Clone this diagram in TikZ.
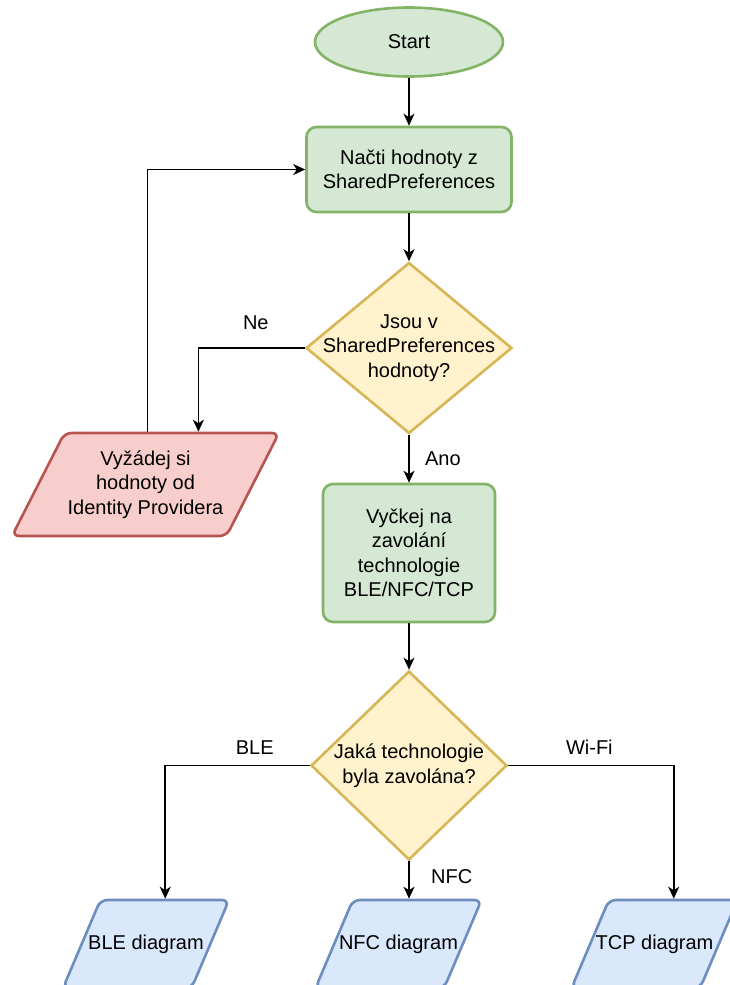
\documentclass[tikz,border=0pt]{standalone}
\usepackage{fontspec}
\setmainfont{Liberation Sans}
\usetikzlibrary{shapes.geometric,arrows.meta}

\definecolor{greenfill}{HTML}{D5E8D4}
\definecolor{greenline}{HTML}{82B366}
\definecolor{yellowfill}{HTML}{FFF2CC}
\definecolor{yellowline}{HTML}{D6B656}
\definecolor{redfill}{HTML}{F8CECC}
\definecolor{redline}{HTML}{B85450}
\definecolor{bluefill}{HTML}{DAE8FC}
\definecolor{blueline}{HTML}{6C8EBF}

\begin{document}
\begin{tikzpicture}[x=1pt, y=-1pt,
  font=\fontsize{20}{24.5}\selectfont,
  arr/.style={line width=1.6pt, -{Stealth[length=12pt,width=11pt,inset=3.5pt]}},
  startnode/.style={ellipse, draw=greenline, fill=greenfill, line width=2.6pt,
    minimum width=188pt, minimum height=69pt},
  procbox/.style={rectangle, rounded corners=10pt, draw=greenline, fill=greenfill,
    line width=2.6pt, align=center},
  decision/.style={diamond, draw=yellowline, fill=yellowfill, line width=2.6pt, inner sep=0pt},
  iobox/.style={trapezium, trapezium stretches body, rounded corners=7pt,
    line width=2.6pt, inner xsep=0pt},
  diagbox/.style={iobox, draw=blueline, fill=bluefill, trapezium left angle=67,
    trapezium right angle=113, inner ysep=44pt, minimum width=166pt},
]
\useasboundingbox (0,0) rectangle (729,985);

% hlavni vetev
\node[startnode] (start) at (409,42) {Start};
\node[procbox, minimum width=205pt, minimum height=85pt] (load) at (409,169.5)
  {Načti hodnoty z\\SharedPreferences};
\node[decision, minimum width=206pt, minimum height=171pt,
  label={[align=center]center:Jsou v\\SharedPreferences\\hodnoty?}] (check) at (409,348) {};
\node[iobox, draw=redline, fill=redfill, trapezium left angle=63, trapezium right angle=117,
  inner ysep=51.5pt, minimum width=267pt,
  label={[align=center]center:Vyžádej si\\hodnoty od\\Identity Providera}] (request) at (145.5,484.5) {};
\node[procbox, minimum width=172pt, minimum height=138pt] (wait) at (409,553)
  {Vyčkej na\\zavolání\\technologie\\BLE/NFC/TCP};
\node[decision, minimum width=196pt, minimum height=189pt,
  label={[align=center]center:Jaká technologie\\byla zavolána?}] (tech) at (409,765.5) {};

% diagramy
\node[diagbox, label=center:BLE diagram] (ble) at (146,944) {};
\node[diagbox, label=center:NFC diagram] (nfc) at (398.5,944) {};
\node[diagbox, label=center:TCP diagram] (tcp) at (654.5,944) {};

% spojnice
\draw[arr] (start) -- (load);
\draw[arr] (load) -- (check);
\draw[arr] (check.west) -| node[pos=0.23, above=14pt] {Ne} ([xshift=26pt]request.top side);
\draw[arr] ([xshift=-25pt]request.top side) |- (load.west);
\draw[arr] (check) -- node[right=12pt] {Ano} (wait);
\draw[arr] (wait) -- (tech);
\draw[arr] (tech.west) -| node[pos=0.19, above=7pt] {BLE} (ble.top side);
\draw[arr] (tech.south) -- node[pos=0.4, right=18pt] {NFC} (tech.south |- nfc.top side);
\draw[arr] (tech.east) -| node[pos=0.245, above=7pt] {Wi-Fi} (tcp.top side);

\end{tikzpicture}
\end{document}
